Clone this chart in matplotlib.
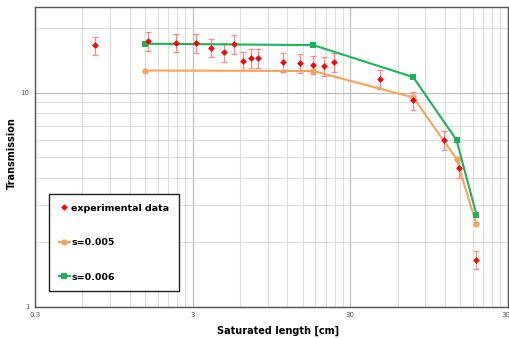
import matplotlib
matplotlib.use("Agg")
import matplotlib.pyplot as plt
from matplotlib.ticker import FixedLocator, FixedFormatter, NullFormatter
import numpy as np

# Experimental data
exp_x = [0.72, 1.57, 2.34, 3.14, 3.93, 4.72, 5.52, 6.3, 7.05, 7.85, 11.3, 14.4, 17.5, 20.5, 23.8, 46.1, 75.5, 119, 148, 190]
exp_y = [16.6, 17.4, 17.1, 17.0, 16.2, 15.5, 16.8, 14.1, 14.5, 14.5, 13.9, 13.7, 13.5, 13.3, 13.9, 11.55, 9.18, 6.0, 4.43, 1.66]
exp_err_frac = 0.10

# Model s=0.005
s005_x = [1.5, 17.5, 75.5, 142, 190]
s005_y = [12.67, 12.6, 9.48, 4.9, 2.42]

# Model s=0.006
s006_x = [1.5, 17.5, 75.5, 142, 190]
s006_y = [16.9, 16.65, 11.8, 6.0, 2.69]

xticks = [0.3, 3, 30, 300]
xticklabels = ["0.3", "3", "30", "300"]
yticks = [1, 10]
yticklabels = ["1", "10"]

fig = plt.figure(figsize=(5.09, 3.38), dpi=100)
ax = fig.add_axes([35/509, 1 - 306.7/338, (507.7-35)/509, (306.7-7.3)/338])

ax.set_xscale("log")
ax.set_yscale("log")
ax.set_xlim(0.3, 300)
ax.set_ylim(1, 25)

# grid
xminor = [0.3*k*10**d for d in range(3) for k in range(2, 10)]
yminor = [k*10**d for d in range(2) for k in range(2, 10) if k*10**d < 25]
ax.xaxis.set_major_locator(FixedLocator(xticks))
ax.xaxis.set_major_formatter(FixedFormatter(xticklabels))
ax.xaxis.set_minor_locator(FixedLocator(xminor))
ax.xaxis.set_minor_formatter(NullFormatter())
ax.yaxis.set_major_locator(FixedLocator(yticks))
ax.yaxis.set_major_formatter(FixedFormatter(yticklabels))
ax.yaxis.set_minor_locator(FixedLocator(yminor))
ax.yaxis.set_minor_formatter(NullFormatter())
ax.grid(True, which="major", color="#bdbdbd", linewidth=0.9)
ax.grid(True, which="minor", color="#dedede", linewidth=0.8)
ax.set_axisbelow(True)
ax.tick_params(which="both", length=0, labelsize=5, colors="#555555", pad=4)
for sp in ax.spines.values():
    sp.set_color("#555555")
    sp.set_linewidth(1.0)

exp_y_arr = np.array(exp_y)
ax.errorbar(exp_x, exp_y, yerr=exp_y_arr*exp_err_frac, fmt="none", ecolor="#ff8a8a",
            elinewidth=0.9, capsize=2, capthick=0.9, zorder=3)
ax.plot(s005_x, s005_y, color="#f7a35c", linewidth=1.5, marker="o", markersize=4.5,
        markeredgewidth=0, label="s=0.005", zorder=4)
ax.plot(s006_x, s006_y, color="#1db35a", linewidth=1.5, marker="s", markersize=4.5,
        markeredgewidth=0, label="s=0.006", zorder=4)
ax.plot(exp_x, exp_y, linestyle="none", marker="D", markersize=3.4, color="#ff0000",
        markeredgewidth=0, label="experimental data", zorder=5)

handles, labels = ax.get_legend_handles_labels()
order = [2, 0, 1]
leg = ax.legend([handles[i] for i in order], [labels[i] for i in order],
                loc="upper left", bbox_to_anchor=((49.3-35)/472.7, (306.7-194.3)/299.4),
                frameon=True, fancybox=False, edgecolor="#222222", framealpha=1,
                prop={"weight": "bold", "size": 6.8}, labelspacing=2.7,
                handlelength=1.2, handletextpad=0.1, borderpad=1.0, borderaxespad=0)
leg.get_frame().set_linewidth(1.0)

ax.set_xlabel("Saturated length [cm]", fontsize=7, fontweight="bold")
ax.xaxis.set_label_coords(0.5 + 7/472.7, -(325.5-306.7)/299.4)
ax.set_ylabel("Transmission", fontsize=7, fontweight="bold")
ax.yaxis.set_label_coords(-(35-17)/472.7, (306.7-153)/299.4)

fig.savefig("out.png", dpi=100)
